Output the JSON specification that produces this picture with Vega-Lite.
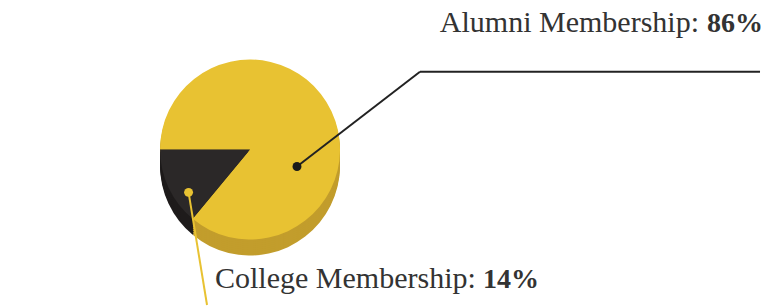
{
  "$schema": "https://vega.github.io/schema/vega-lite/v6.json",
  "width": 776,
  "height": 306,
  "autosize": {"type": "fit", "contains": "padding"},
  "padding": 0,
  "background": "white",
  "config": {"view": {"stroke": null}},
  "datasets": {
    "slices": [
      {"group": "Alumni Membership", "value": 86, "label": "Alumni Membership:", "pct": "86%"},
      {"group": "College Membership", "value": 14, "label": "College Membership:", "pct": "14%"}
    ]
  },
  "data": {"name": "slices"},
  "encoding": {
    "x": {"type": "quantitative", "scale": {"domain": [0, 100], "nice": false, "zero": false}, "axis": null},
    "y": {"type": "quantitative", "scale": {"domain": [0, 100], "reverse": true, "nice": false, "zero": false}, "axis": null}
  },
  "layer": [
    {"mark": {"type": "arc", "outerRadius": 90, "yOffset": 16},
     "encoding": {"x": {"datum": 32.22, "type": "quantitative"}, "y": {"datum": 49.02, "type": "quantitative"},
       "theta": {"field": "value", "type": "quantitative", "stack": true, "scale": {"range": [4.712389, 10.995574]}},
       "order": {"field": "group", "sort": "ascending"},
       "color": {"condition": {"test": "datum.group === 'Alumni Membership'", "value": "#C29D2C"}, "value": "#1E1B1B"}}},
    {"mark": {"type": "arc", "outerRadius": 90, "yOffset": 14},
     "encoding": {"x": {"datum": 32.22, "type": "quantitative"}, "y": {"datum": 49.02, "type": "quantitative"},
       "theta": {"field": "value", "type": "quantitative", "stack": true, "scale": {"range": [4.712389, 10.995574]}},
       "order": {"field": "group", "sort": "ascending"},
       "color": {"condition": {"test": "datum.group === 'Alumni Membership'", "value": "#C29D2C"}, "value": "#1E1B1B"}}},
    {"mark": {"type": "arc", "outerRadius": 90, "yOffset": 12},
     "encoding": {"x": {"datum": 32.22, "type": "quantitative"}, "y": {"datum": 49.02, "type": "quantitative"},
       "theta": {"field": "value", "type": "quantitative", "stack": true, "scale": {"range": [4.712389, 10.995574]}},
       "order": {"field": "group", "sort": "ascending"},
       "color": {"condition": {"test": "datum.group === 'Alumni Membership'", "value": "#C29D2C"}, "value": "#1E1B1B"}}},
    {"mark": {"type": "arc", "outerRadius": 90, "yOffset": 10},
     "encoding": {"x": {"datum": 32.22, "type": "quantitative"}, "y": {"datum": 49.02, "type": "quantitative"},
       "theta": {"field": "value", "type": "quantitative", "stack": true, "scale": {"range": [4.712389, 10.995574]}},
       "order": {"field": "group", "sort": "ascending"},
       "color": {"condition": {"test": "datum.group === 'Alumni Membership'", "value": "#C29D2C"}, "value": "#1E1B1B"}}},
    {"mark": {"type": "arc", "outerRadius": 90, "yOffset": 8},
     "encoding": {"x": {"datum": 32.22, "type": "quantitative"}, "y": {"datum": 49.02, "type": "quantitative"},
       "theta": {"field": "value", "type": "quantitative", "stack": true, "scale": {"range": [4.712389, 10.995574]}},
       "order": {"field": "group", "sort": "ascending"},
       "color": {"condition": {"test": "datum.group === 'Alumni Membership'", "value": "#C29D2C"}, "value": "#1E1B1B"}}},
    {"mark": {"type": "arc", "outerRadius": 90, "yOffset": 6},
     "encoding": {"x": {"datum": 32.22, "type": "quantitative"}, "y": {"datum": 49.02, "type": "quantitative"},
       "theta": {"field": "value", "type": "quantitative", "stack": true, "scale": {"range": [4.712389, 10.995574]}},
       "order": {"field": "group", "sort": "ascending"},
       "color": {"condition": {"test": "datum.group === 'Alumni Membership'", "value": "#C29D2C"}, "value": "#1E1B1B"}}},
    {"mark": {"type": "arc", "outerRadius": 90, "yOffset": 4},
     "encoding": {"x": {"datum": 32.22, "type": "quantitative"}, "y": {"datum": 49.02, "type": "quantitative"},
       "theta": {"field": "value", "type": "quantitative", "stack": true, "scale": {"range": [4.712389, 10.995574]}},
       "order": {"field": "group", "sort": "ascending"},
       "color": {"condition": {"test": "datum.group === 'Alumni Membership'", "value": "#C29D2C"}, "value": "#1E1B1B"}}},
    {"mark": {"type": "arc", "outerRadius": 90, "yOffset": 2},
     "encoding": {"x": {"datum": 32.22, "type": "quantitative"}, "y": {"datum": 49.02, "type": "quantitative"},
       "theta": {"field": "value", "type": "quantitative", "stack": true, "scale": {"range": [4.712389, 10.995574]}},
       "order": {"field": "group", "sort": "ascending"},
       "color": {"condition": {"test": "datum.group === 'Alumni Membership'", "value": "#C29D2C"}, "value": "#1E1B1B"}}},
    {"mark": {"type": "arc", "outerRadius": 90},
     "encoding": {"x": {"datum": 32.22, "type": "quantitative"}, "y": {"datum": 49.02, "type": "quantitative"},
       "theta": {"field": "value", "type": "quantitative", "stack": true, "scale": {"range": [4.712389, 10.995574]}},
       "order": {"field": "group", "sort": "ascending"},
       "color": {"condition": {"test": "datum.group === 'Alumni Membership'", "value": "#E8C232"}, "value": "#2B2828"}}},
    {
      "transform": [{"filter": "datum.group === 'Alumni Membership'"}],
      "mark": {"type": "rule", "color": "#222222", "strokeWidth": 2},
      "encoding": {
        "x": {"datum": 38.27, "type": "quantitative"},
        "y": {"datum": 54.58, "type": "quantitative"},
        "x2": {"datum": 54.12},
        "y2": {"datum": 23.53}
      }
    },
    {
      "transform": [{"filter": "datum.group === 'Alumni Membership'"}],
      "mark": {"type": "rule", "color": "#222222", "strokeWidth": 2},
      "encoding": {
        "x": {"datum": 54.12, "type": "quantitative"},
        "y": {"datum": 23.53, "type": "quantitative"},
        "x2": {"datum": 97.94},
        "y2": {"datum": 23.53}
      }
    },
    {
      "transform": [{"filter": "datum.group === 'Alumni Membership'"}],
      "mark": {"type": "point", "filled": true, "opacity": 1, "size": 80, "color": "#1A1A1A"},
      "encoding": {
        "x": {"datum": 38.27, "type": "quantitative"},
        "y": {"datum": 54.58, "type": "quantitative"}
      }
    },
    {
      "transform": [{"filter": "datum.group === 'College Membership'"}],
      "mark": {"type": "rule", "color": "#E8C232", "strokeWidth": 2},
      "encoding": {
        "x": {"datum": 24.30, "type": "quantitative"},
        "y": {"datum": 63.07, "type": "quantitative"},
        "x2": {"datum": 26.68},
        "y2": {"datum": 100}
      }
    },
    {
      "transform": [{"filter": "datum.group === 'College Membership'"}],
      "mark": {"type": "point", "filled": true, "opacity": 1, "size": 80, "color": "#E8C232"},
      "encoding": {
        "x": {"datum": 24.30, "type": "quantitative"},
        "y": {"datum": 63.07, "type": "quantitative"}
      }
    },
    {
      "transform": [{"filter": "datum.group === 'Alumni Membership'"}],
      "mark": {"type": "text", "align": "right", "baseline": "alphabetic", "font": "Liberation Serif", "fontSize": 30, "color": "#333333"},
      "encoding": {
        "x": {"datum": 90.08, "type": "quantitative"},
        "y": {"datum": 10.46, "type": "quantitative"},
        "text": {"field": "label"}
      }
    },
    {
      "transform": [{"filter": "datum.group === 'Alumni Membership'"}],
      "mark": {"type": "text", "align": "right", "baseline": "alphabetic", "font": "Liberation Serif", "fontSize": 28, "fontWeight": "bold", "color": "#333333"},
      "encoding": {
        "x": {"datum": 98.32, "type": "quantitative"},
        "y": {"datum": 10.46, "type": "quantitative"},
        "text": {"field": "pct"}
      }
    },
    {
      "transform": [{"filter": "datum.group === 'College Membership'"}],
      "mark": {"type": "text", "align": "left", "baseline": "alphabetic", "font": "Liberation Serif", "fontSize": 30, "color": "#333333"},
      "encoding": {
        "x": {"datum": 27.71, "type": "quantitative"},
        "y": {"datum": 94.44, "type": "quantitative"},
        "text": {"field": "label"}
      }
    },
    {
      "transform": [{"filter": "datum.group === 'College Membership'"}],
      "mark": {"type": "text", "align": "left", "baseline": "alphabetic", "font": "Liberation Serif", "fontSize": 28, "fontWeight": "bold", "color": "#333333"},
      "encoding": {
        "x": {"datum": 62.24, "type": "quantitative"},
        "y": {"datum": 94.44, "type": "quantitative"},
        "text": {"field": "pct"}
      }
    }
  ]
}
